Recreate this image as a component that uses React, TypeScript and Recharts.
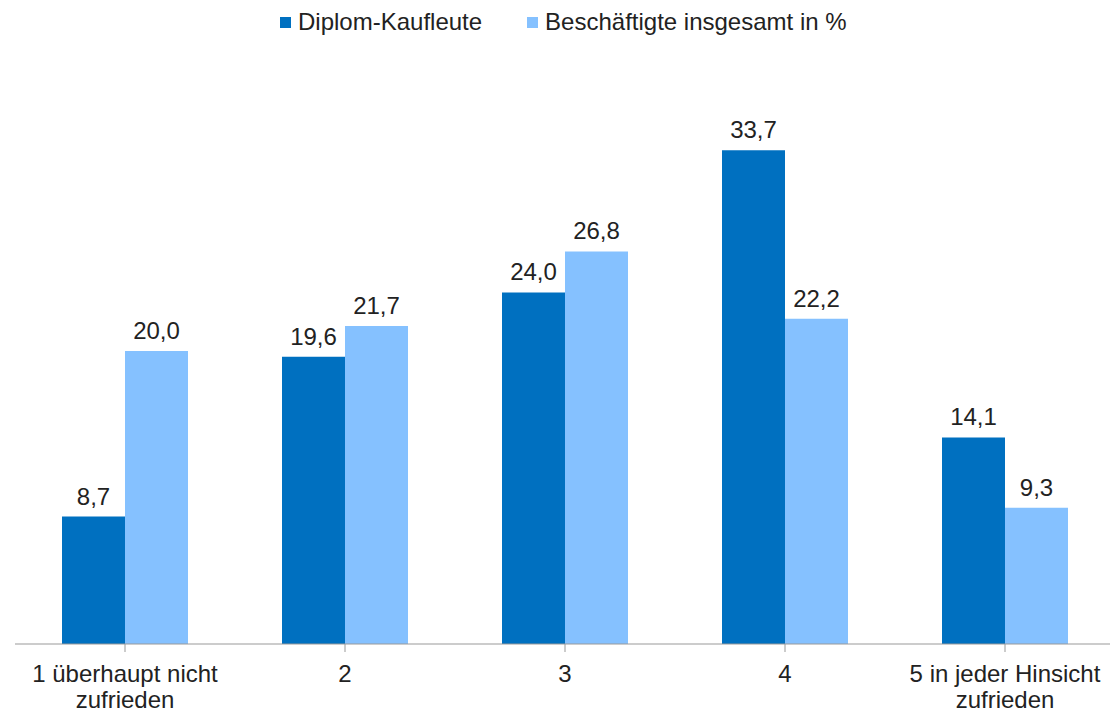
import { BarChart, Bar, XAxis, YAxis, LabelList } from 'recharts';

const categories = ['1 überhaupt nicht|zufrieden', '2', '3', '4', '5 in jeder Hinsicht|zufrieden'];
const diplomKaufleute = [8.7, 19.6, 24.0, 33.7, 14.1];
const beschaeftigte = [20.0, 21.7, 26.8, 22.2, 9.3];

const DARK = '#0070C0';
const LIGHT = '#85C1FF';
const FONT = '"Liberation Sans", Arial, sans-serif';

const data = categories.map((name, i) => ({
  name,
  'Diplom-Kaufleute': diplomKaufleute[i],
  'Beschäftigte insgesamt in %': beschaeftigte[i],
}));

const fmt = (v: any) => Number(v).toFixed(1).replace('.', ',');

function CategoryTick({ x, y, payload }: any) {
  const lines = String(payload.value).split('|');
  return (
    <text x={x} y={y} textAnchor="middle" fill="#222" fontSize={24} fontFamily={FONT}>
      {lines.map((l, i) => (
        <tspan key={i} x={x} dy={i === 0 ? 28 : 26}>{l}</tspan>
      ))}
    </text>
  );
}

function TopLegend() {
  const items = [
    { label: 'Diplom-Kaufleute', color: DARK },
    { label: 'Beschäftigte insgesamt in %', color: LIGHT },
  ];
  return (
    <div style={{ position: 'absolute', top: 8, left: 280, display: 'flex', alignItems: 'center', gap: 45, fontFamily: FONT, fontSize: 24, lineHeight: '28px', color: '#222', whiteSpace: 'nowrap' }}>
      {items.map((it) => (
        <div key={it.label} style={{ display: 'flex', alignItems: 'center' }}>
          <span style={{ width: 11, height: 11, background: it.color, display: 'inline-block', marginRight: 7 }} />
          <span>{it.label}</span>
        </div>
      ))}
    </div>
  );
}

export default function App() {
  return (
    <div style={{ position: 'absolute', left: 0, top: 0, width: 1110, height: 715, overflow: 'hidden', background: '#fff' }}>
      <BarChart
        width={1115}
        height={715}
        data={data}
        margin={{ top: 58, right: 0, bottom: 0, left: 15 }}
        barCategoryGap={47}
        barGap={0}
      >
        <XAxis
          dataKey="name"
          height={71}
          tick={<CategoryTick />}
          tickLine={{ stroke: '#999' }}
          axisLine={{ stroke: '#999' }}
          tickSize={8}
          interval={0}
        />
        <YAxis hide domain={[0, 40]} />
        <Bar dataKey="Diplom-Kaufleute" fill={DARK} isAnimationActive={false}>
          <LabelList dataKey="Diplom-Kaufleute" position="top" offset={12} formatter={fmt} fill="#222" fontSize={24} fontFamily={FONT} />
        </Bar>
        <Bar dataKey="Beschäftigte insgesamt in %" fill={LIGHT} isAnimationActive={false}>
          <LabelList dataKey="Beschäftigte insgesamt in %" position="top" offset={12} formatter={fmt} fill="#222" fontSize={24} fontFamily={FONT} />
        </Bar>
      </BarChart>
      <TopLegend />
    </div>
  );
}
